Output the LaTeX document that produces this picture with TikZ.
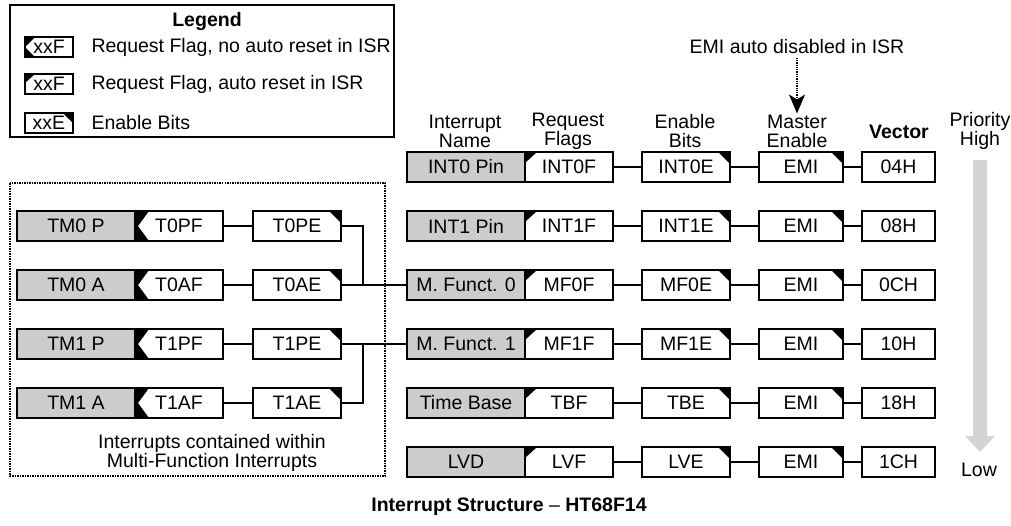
\documentclass[tikz,border=0pt]{standalone}
\usepackage{fontspec}
\setmainfont{Liberation Sans}
\usetikzlibrary{arrows.meta}
\definecolor{namegray}{gray}{0.80}
\definecolor{prigray}{gray}{0.83}
\tikzset{
 box/.style={draw,line width=1.2pt,minimum height=30pt,inner sep=0},
 namebox/.style={box,fill=namegray,minimum width=118pt},
 flagbox/.style={box,fill=white,minimum width=88pt,path picture={\fill[black] (path picture bounding box.north west) -- ++(12,0) -- ++(-12,11) -- cycle;}},
 holdflag/.style={box,fill=white,minimum width=88pt,path picture={\fill[black] (path picture bounding box.north west) -- ++(14,0) -- ++(-11,15) -- ++(11,15) -- (path picture bounding box.south west) -- cycle;}},
 enbox/.style={box,fill=white,minimum width=88pt,path picture={\fill[black] (path picture bounding box.north east) -- ++(-12,0) -- ++(12,12) -- cycle;}},
 emibox/.style={enbox,minimum width=84pt},
 vecbox/.style={box,fill=white,minimum width=73pt},
 legbox/.style={draw,line width=1.1pt,fill=white,minimum width=48pt,minimum height=20pt,inner sep=0},
 legflag/.style={legbox,path picture={\fill[black] (path picture bounding box.north west) -- ++(10,0) -- ++(-10,9) -- cycle;}},
 legholdflag/.style={legbox,path picture={\fill[black] (path picture bounding box.north west) -- ++(10,0) -- (path picture bounding box.west) -- ++(10,10) -- (path picture bounding box.south west) -- cycle;}},
 legen/.style={legbox,path picture={\fill[black] (path picture bounding box.north east) -- ++(-10,0) -- ++(10,10) -- cycle;}},
 wire/.style={line width=1.1pt},
 head/.style={align=center,inner sep=1pt},
 dotarrow/.style={densely dotted,line width=1.3pt,-{Stealth[length=19pt,width=16pt,inset=5pt]}}
}
\begin{document}
\begin{tikzpicture}[x=1pt,y=-1pt,font=\fontsize{19.5}{19}\selectfont]
\useasboundingbox (0,0) rectangle (1011,525);
% legend
\draw[line width=1.1pt] (10,5) rectangle (394,137);
\node[font=\fontsize{19.5}{19}\selectfont\bfseries] (legtitle) at (207,21) {Legend};
\node[legholdflag] (leg1) at (49,47) {xxF};
\node[anchor=west] (leg1t) at (88,47) {Request Flag, no auto reset in ISR};
\node[legflag] (leg2) at (49,84) {xxF};
\node[anchor=west] (leg2t) at (88,84) {Request Flag, auto reset in ISR};
\node[legen] (leg3) at (49,123) {xxE};
\node[anchor=west] (leg3t) at (88,123) {Enable Bits};
% column heads
\node[head] (hname) at (465,131) {Interrupt\\Name};
\node[head] (hflag) at (568,131) {Request\\Flags};
\node[head] (hen) at (685,131) {Enable\\Bits};
\node[head] (hmast) at (797,131) {Master\\Enable};
\node[head,font=\fontsize{19.5}{19}\selectfont\bfseries] (hvec) at (899,132) {Vector};
\node[head] (hpri) at (980,131) {Priority\\High};
\node[head] (hlow) at (979,470) {Low};
\node (emitxt) at (797,47) {EMI auto disabled in ISR};
\draw[dotarrow] (emitxt.south) -- (hmast.north);
% priority arrow
\fill[prigray] (973,160) -- (987,160) -- (987,436) -- (995,436) -- (980,452) -- (965,436) -- (973,436) -- cycle;
% main interrupts
\node[namebox] (int0n) at (466,167) {INT0 Pin};
\node[flagbox] (int0f) at (569,167) {INT0F};
\node[enbox] (int0e) at (686,167) {INT0E};
\node[emibox] (int0m) at (801,167) {EMI};
\node[vecbox] (int0v) at (898.5,167) {04H};
\node[namebox] (int1n) at (466,226) {INT1 Pin};
\node[flagbox] (int1f) at (569,226) {INT1F};
\node[enbox] (int1e) at (686,226) {INT1E};
\node[emibox] (int1m) at (801,226) {EMI};
\node[vecbox] (int1v) at (898.5,226) {08H};
\node[namebox] (mf0n) at (466,285) {M. Funct. 0};
\node[flagbox] (mf0f) at (569,285) {MF0F};
\node[enbox] (mf0e) at (686,285) {MF0E};
\node[emibox] (mf0m) at (801,285) {EMI};
\node[vecbox] (mf0v) at (898.5,285) {0CH};
\node[namebox] (mf1n) at (466,344) {M. Funct. 1};
\node[flagbox] (mf1f) at (569,344) {MF1F};
\node[enbox] (mf1e) at (686,344) {MF1E};
\node[emibox] (mf1m) at (801,344) {EMI};
\node[vecbox] (mf1v) at (898.5,344) {10H};
\node[namebox] (tbn) at (466,403) {Time Base};
\node[flagbox] (tbf) at (569,403) {TBF};
\node[enbox] (tbe) at (686,403) {TBE};
\node[emibox] (tbm) at (801,403) {EMI};
\node[vecbox] (tbv) at (898.5,403) {18H};
\node[namebox] (lvdn) at (466,462) {LVD};
\node[flagbox] (lvdf) at (569,462) {LVF};
\node[enbox] (lvde) at (686,462) {LVE};
\node[emibox] (lvdm) at (801,462) {EMI};
\node[vecbox] (lvdv) at (898.5,462) {1CH};
\draw[wire] (int0f) -- (int0e) (int0e) -- (int0m) (int0m) -- (int0v);
\draw[wire] (int1f) -- (int1e) (int1e) -- (int1m) (int1m) -- (int1v);
\draw[wire] (mf0f) -- (mf0e) (mf0e) -- (mf0m) (mf0m) -- (mf0v);
\draw[wire] (mf1f) -- (mf1e) (mf1e) -- (mf1m) (mf1m) -- (mf1v);
\draw[wire] (tbf) -- (tbe) (tbe) -- (tbm) (tbm) -- (tbv);
\draw[wire] (lvdf) -- (lvde) (lvde) -- (lvdm) (lvdm) -- (lvdv);
% multi-function sources
\draw[densely dotted,line width=1.5pt] (10,183) rectangle (385,476);
\node[head] (mfnote) at (212,453) {Interrupts contained within\\Multi-Function Interrupts};
\node[namebox] (tm0pn) at (76,226) {TM0 P};
\node[holdflag] (tm0pf) at (179,226) {T0PF};
\node[enbox] (tm0pe) at (297,226) {T0PE};
\node[namebox] (tm0an) at (76,285) {TM0 A};
\node[holdflag] (tm0af) at (179,285) {T0AF};
\node[enbox] (tm0ae) at (297,285) {T0AE};
\node[namebox] (tm1pn) at (76,344) {TM1 P};
\node[holdflag] (tm1pf) at (179,344) {T1PF};
\node[enbox] (tm1pe) at (297,344) {T1PE};
\node[namebox] (tm1an) at (76,403) {TM1 A};
\node[holdflag] (tm1af) at (179,403) {T1AF};
\node[enbox] (tm1ae) at (297,403) {T1AE};
\coordinate (j0) at (363,285);
\coordinate (j1) at (363,344);
\draw[wire] (tm0pf) -- (tm0pe);
\draw[wire] (tm0af) -- (tm0ae);
\draw[wire] (tm1pf) -- (tm1pe);
\draw[wire] (tm1af) -- (tm1ae);
\draw[wire] (tm0pe.east) -| (j0);
\draw[wire] (tm0ae.east) -- (mf0n.west);
\draw[wire] (tm1pe.east) -- (mf1n.west);
\draw[wire] (tm1ae.east) -| (j1);
% caption
\node (caption) at (509,507) {\textbf{Interrupt Structure} -- \textbf{HT68F14}};
\end{tikzpicture}
\end{document}
